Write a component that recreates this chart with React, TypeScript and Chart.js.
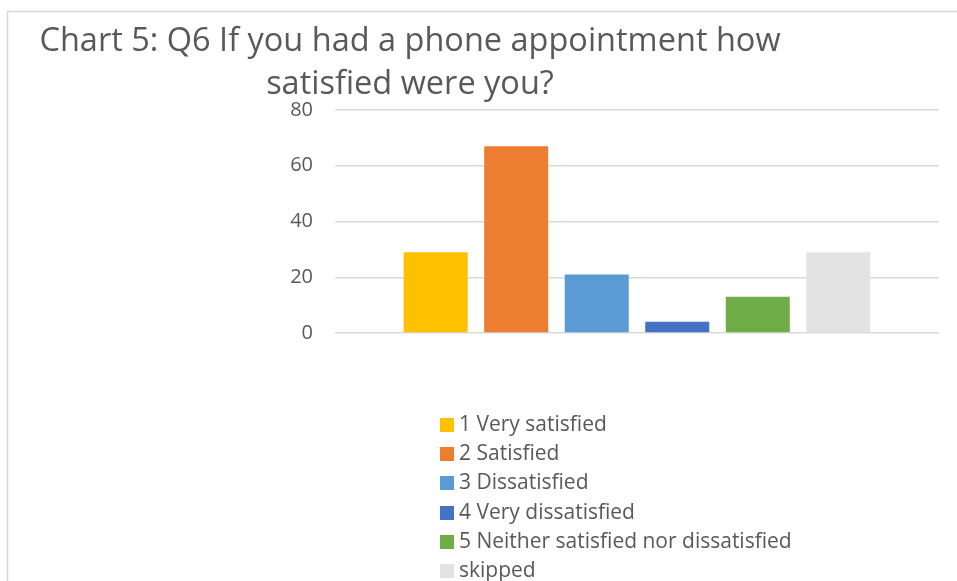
import React, { useEffect, useRef } from "react";
import { Chart, registerables } from "chart.js";

Chart.register(...registerables);

const categories = ["Q6"];
const seriesLabels = [
  "1 Very satisfied",
  "2 Satisfied",
  "3 Dissatisfied",
  "4 Very dissatisfied",
  "5 Neither satisfied nor dissatisfied",
  "skipped",
];
const seriesValues = [29, 67, 21, 4, 13, 29];
const seriesColors = ["#FFC000", "#ED7D31", "#5B9BD5", "#4472C4", "#70AD47", "#E3E3E3"];
const yMin = 0;
const yMax = 80;
const yStep = 20;
const titleLines = ["Chart 5: Q6 If you had a phone appointment how", "satisfied were you?"];

const FONT = "'Open Sans', Lato, sans-serif";
const TEXT_COLOR = "#595959";

const framePlugin = {
  id: "frame",
  beforeDraw(chart: any) {
    const ctx = chart.ctx;
    ctx.save();
    ctx.fillStyle = "#ffffff";
    ctx.fillRect(0, 0, chart.width, chart.height);
    ctx.strokeStyle = "#d9d9d9";
    ctx.lineWidth = 1.5;
    ctx.beginPath();
    ctx.moveTo(7.5, chart.height);
    ctx.lineTo(7.5, 11.5);
    ctx.lineTo(chart.width, 11.5);
    ctx.stroke();
    ctx.restore();
  },
};

const titlePlugin = {
  id: "customTitle",
  afterDraw(chart: any) {
    const ctx = chart.ctx;
    ctx.save();
    ctx.fillStyle = TEXT_COLOR;
    ctx.font = `32.5px ${FONT}`;
    ctx.textAlign = "center";
    ctx.textBaseline = "alphabetic";
    ctx.fillText(titleLines[0], 410, 51);
    ctx.fillText(titleLines[1], 410, 94);
    ctx.restore();
  },
};

const legendPlugin = {
  id: "customLegend",
  afterDraw(chart: any) {
    const ctx = chart.ctx;
    ctx.save();
    ctx.font = `21px ${FONT}`;
    ctx.textAlign = "left";
    ctx.textBaseline = "middle";
    chart.data.datasets.forEach((ds: any, i: number) => {
      const y = 425 + i * 29.2;
      ctx.fillStyle = ds.backgroundColor;
      ctx.fillRect(440, Math.round(y - 7), 14, 14);
      ctx.fillStyle = TEXT_COLOR;
      ctx.fillText(ds.label, 459, y);
    });
    ctx.restore();
  },
};

export default function App() {
  const ref = useRef<HTMLCanvasElement | null>(null);

  useEffect(() => {
    if (!ref.current) return;
    const chart = new Chart(ref.current, {
      type: "bar",
      data: {
        labels: categories,
        datasets: seriesLabels.map((label, i) => ({
          label,
          data: [seriesValues[i]],
          backgroundColor: seriesColors[i],
          borderWidth: 0,
          categoryPercentage: 0.8,
          barPercentage: 0.795,
        })),
      },
      options: {
        responsive: false,
        animation: false,
        layout: { padding: { left: 0, right: 18, top: 110, bottom: 248 } },
        plugins: {
          legend: { display: false },
          title: { display: false },
          tooltip: { enabled: false },
        },
        scales: {
          x: { display: false },
          y: {
            min: yMin,
            max: yMax,
            ticks: {
              stepSize: yStep,
              padding: 22,
              color: TEXT_COLOR,
              font: { family: FONT, size: 20 },
            },
            grid: { color: "#d9d9d9", lineWidth: 1.5, drawTicks: false },
            border: { display: false },
            afterFit(scale: any) {
              scale.width = 335;
            },
          },
        },
      },
      plugins: [framePlugin, titlePlugin, legendPlugin],
    });
    return () => chart.destroy();
  }, []);

  return (
    <div style={{ position: "absolute", left: 0, top: 0, width: 957, height: 581, background: "#fff" }}>
      <canvas ref={ref} width={957} height={581} />
    </div>
  );
}
